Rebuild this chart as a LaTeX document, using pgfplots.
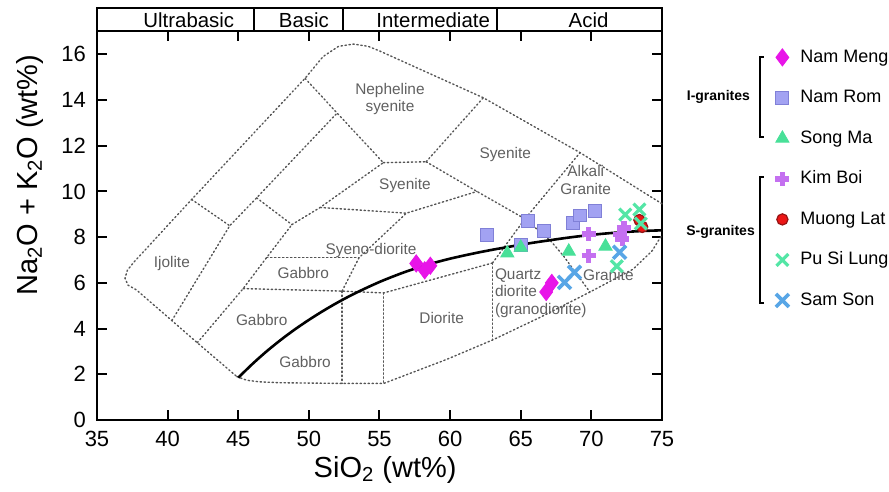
\documentclass[border=0pt]{standalone}
\usepackage{fontspec}
\setmainfont{Liberation Sans}
\usepackage{pgfplots}
\pgfplotsset{compat=1.18}

\definecolor{namMeng}{RGB}{232,20,232}
\definecolor{namRom}{RGB}{162,162,242}
\definecolor{namRomEdge}{RGB}{128,128,215}
\definecolor{songMa}{RGB}{72,224,152}
\definecolor{kimBoi}{RGB}{196,112,240}
\definecolor{muongLat}{RGB}{236,22,22}
\definecolor{muongLatEdge}{RGB}{150,20,20}
\definecolor{puSiLung}{RGB}{84,230,166}
\definecolor{samSon}{RGB}{88,166,230}
\definecolor{fieldline}{RGB}{85,85,85}
\definecolor{fieldtext}{RGB}{96,96,96}

\tikzset{
  field/.style={fieldline, line width=0.7pt, dash pattern=on 0.7pt off 1.3pt, line cap=round},
  fieldname/.style={fieldtext, font=\fontsize{7.7}{8.6}\selectfont, inner sep=0pt}
}

\begin{document}
\begin{tikzpicture}
\begin{axis}[
  scale only axis,
  width=282.5pt, height=194.25pt,
  xmin=35, xmax=75, ymin=0, ymax=17,
  xtick={35,40,...,75}, ytick={0,2,...,16},
  tick align=inside,
  major tick length=5pt,
  axis line style={line width=1pt},
  every tick/.style={black, line width=1pt},
  tick label style={font=\fontsize{11}{13}\selectfont},
  xticklabel style={yshift=-2pt},
  yticklabel style={xshift=-2pt},
  /pgf/number format/assume math mode=true,
  xlabel={SiO\textsubscript{2} (wt\%)},
  ylabel={Na\textsubscript{2}O + K\textsubscript{2}O (wt\%)},
  label style={font=\fontsize{14.5}{17}\selectfont},
  xlabel style={at={(axis description cs:0.51,-0.1287)}, anchor=center},
  ylabel style={at={(axis description cs:-0.1186,0.63)}, anchor=center},
  clip=false,
  legend image code/.code={\draw[mark repeat=2,mark phase=2,#1] plot coordinates {(-4pt,0pt) (0pt,0pt) (4pt,0pt)};},
  legend cell align=left,
  legend style={at={(axis description cs:1.2,0.9575)}, anchor=north west,
    draw=none, fill=none, inner sep=0pt,
    font=\fontsize{9}{10}\selectfont,
    nodes={inner sep=0pt, text height=7pt, text depth=2pt},
    row sep=11.25pt, column sep=5.5pt},
]

% ---- field boundaries (dotted) ----
\addplot[field, forget plot] coordinates {
  (44.9,1.9) (45.6,1.74) (46.5,1.67) (48,1.63) (52.35,1.6) (55.3,1.6)
  (59.75,2.65) (63.0,3.5) (66.4,4.5) (69.9,5.6) (72.95,6.6) (74.3,7.4) (75,8.1)};
\addplot[field, forget plot] coordinates {
  (75,9.46) (69.2,11.7) (62.35,14.1) (55.0,16.15) (54.2,16.35) (53.15,16.45)
  (52.1,16.35) (51.0,15.9) (49.73,14.95) (41.7,9.65) (37.6,6.9) (37.15,6.55)
  (36.98,6.2) (37.2,5.9) (37.8,5.69) (40.3,4.35) (42.1,3.38) (44.9,1.9)};
\addplot[field, forget plot] coordinates {(41.7,9.65) (44.4,8.5)};
\addplot[field, forget plot] coordinates {(40.3,4.35) (44.4,8.5) (46.3,9.72) (52.0,13.43)};
\addplot[field, forget plot] coordinates {(49.73,14.95) (52.0,13.43) (55.27,11.26)};
\addplot[field, forget plot] coordinates {(46.3,9.72) (48.8,8.55)};
\addplot[field, forget plot] coordinates {(42.1,3.38) (45.35,5.75) (47.0,7.1) (48.8,8.55)};
\addplot[field, forget plot] coordinates {(48.8,8.55) (50.8,9.3) (55.27,11.26)};
\addplot[field, forget plot] coordinates {(50.8,9.3) (56.9,9.05) (61.9,10.0)};
\addplot[field, forget plot] coordinates {(55.27,11.26) (58.3,11.3)};
\addplot[field, forget plot] coordinates {(58.3,11.3) (62.35,14.1)};
\addplot[field, forget plot] coordinates {(58.3,11.3) (61.9,10.0) (65.3,8.8) (67.1,7.85) (68.0,7.2) (69.9,5.6)};
\addplot[field, forget plot] coordinates {(63.0,6.87) (65.3,8.8) (69.2,11.7)};
\addplot[field, forget plot] coordinates {(45.35,5.75) (52.35,5.64) (55.3,5.56) (63.0,6.87)};
\addplot[field, forget plot] coordinates {(47.0,7.1) (53.55,7.1)};
\addplot[field, forget plot] coordinates {(52.35,5.64) (53.55,7.1) (56.9,9.05)};
\addplot[field, forget plot] coordinates {(52.35,5.64) (52.35,1.6)};
\addplot[field, forget plot] coordinates {(55.3,5.56) (55.3,1.6)};
\addplot[field, forget plot] coordinates {(63.0,6.87) (63.0,3.5)};

% ---- alkaline / subalkaline divide ----
\addplot[black, line width=1.3pt, smooth, forget plot] coordinates {
  (45,1.85) (46,2.45) (47,3.0) (48,3.5) (49,3.96) (50,4.38) (51,4.77) (52,5.13)
  (53,5.46) (54,5.76) (55,6.04) (56,6.29) (57,6.52) (58,6.72) (59,6.9) (60,7.06)
  (61,7.2) (62,7.33) (63,7.45) (64,7.56) (65,7.67) (66,7.77) (67,7.86) (68,7.95)
  (69,8.03) (70,8.1) (71,8.16) (72,8.21) (73,8.25) (74,8.28) (75,8.3)};

% ---- field names ----
\node[fieldname, align=center] at (axis cs:55.74,14.05) {Nepheline\\syenite};
\node[fieldname] at (axis cs:63.9,11.6) {Syenite};
\node[fieldname] at (axis cs:56.8,10.24) {Syenite};
\node[fieldname, align=center] at (axis cs:69.6,10.5) {Alkali\\Granite};
\node[fieldname] at (axis cs:40.3,6.86) {Ijolite};
\node[fieldname] at (axis cs:49.6,6.42) {Gabbro};
\node[fieldname] at (axis cs:46.66,4.38) {Gabbro};
\node[fieldname] at (axis cs:49.73,2.55) {Gabbro};
\node[fieldname] at (axis cs:54.4,7.4) {Syeno-diorite};
\node[fieldname] at (axis cs:59.4,4.45) {Diorite};
\node[fieldname, align=left, anchor=west] at (axis cs:63.15,5.55) {Quartz\\diorite\\(granodiorite)};
\node[fieldname] at (axis cs:71.2,6.35) {Granite};

% ---- SiO2 classes above the frame ----
\draw[line width=1pt] (axis cs:35,17) -- (axis cs:35,18.02) -- (axis cs:75,18.02) -- (axis cs:75,17);
\draw[line width=1pt] (axis cs:46.15,17) -- (axis cs:46.15,18.02);
\draw[line width=1pt] (axis cs:52.4,17) -- (axis cs:52.4,18.02);
\draw[line width=1pt] (axis cs:63.3,17) -- (axis cs:63.3,18.02);
\node[font=\fontsize{10.2}{12}\selectfont] at (axis cs:41.5,17.5) {Ultrabasic};
\node[font=\fontsize{10.2}{12}\selectfont] at (axis cs:49.65,17.5) {Basic};
\node[font=\fontsize{10.2}{12}\selectfont] at (axis cs:58.8,17.5) {Intermediate};
\node[font=\fontsize{10.2}{12}\selectfont] at (axis cs:69.8,17.5) {Acid};

% ---- samples ----
\addplot[only marks, mark=diamond*, mark size=4.3pt, color=namMeng] coordinates {
  (57.6,6.85) (58.2,6.55) (58.6,6.75) (66.8,5.6) (67.2,6.0)};
\addlegendentry{Nam Meng}
\addplot[only marks, mark=square*, mark size=3.2pt,
  mark options={draw=namRomEdge, fill=namRom, line width=0.5pt}] coordinates {
  (62.6,8.1) (65.5,8.7) (66.65,8.26) (65.0,7.65) (68.7,8.62) (69.2,8.95) (70.25,9.14)};
\addlegendentry{Nam Rom}
\addplot[only marks, mark=triangle*, mark size=3.8pt, color=songMa] coordinates {
  (64.05,7.3) (65.0,7.55) (68.4,7.38) (71.0,7.6)};
\addlegendentry{Song Ma}
\addplot[only marks, mark=+, mark size=3.5pt, color=kimBoi, mark options={line width=2.7pt}] coordinates {
  (69.8,8.14) (69.8,7.19) (72.3,8.4) (72.0,8.11) (72.2,7.92)};
\addlegendentry{Kim Boi}
\addplot[only marks, mark=*, mark size=2.8pt,
  mark options={draw=muongLatEdge, fill=muongLat, line width=0.6pt}] coordinates {
  (73.4,8.75) (73.6,8.45)};
\addlegendentry{Muong Lat}
\addplot[only marks, mark=x, mark size=4.2pt, color=puSiLung, mark options={line width=1.6pt}] coordinates {
  (72.4,8.99) (73.4,9.21) (73.5,8.6) (71.8,6.73)};
\addlegendentry{Pu Si Lung}
\addplot[only marks, mark=x, mark size=4.6pt, color=samSon, mark options={line width=1.8pt}] coordinates {
  (68.1,6.02) (68.8,6.46) (72.0,7.34)};
\addlegendentry{Sam Son}

% ---- group brackets beside the legend ----
\draw[line width=1pt] (axis cs:82.22,15.89) -- (axis cs:81.94,15.89) -- (axis cs:81.94,12.39) -- (axis cs:82.22,12.39);
\draw[line width=1pt] (axis cs:82.22,10.63) -- (axis cs:81.94,10.63) -- (axis cs:81.94,5.12) -- (axis cs:82.22,5.12);
\node[anchor=east, font=\bfseries\fontsize{7}{8}\selectfont, inner sep=0pt] at (axis cs:81.25,14.14) {I-granites};
\node[anchor=east, font=\bfseries\fontsize{7}{8}\selectfont, inner sep=0pt] at (axis cs:81.6,8.23) {S-granites};
\end{axis}
\pgfresetboundingbox
\path (-48.5pt,-36pt) rectangle (396pt,210pt);
\end{tikzpicture}
\end{document}
